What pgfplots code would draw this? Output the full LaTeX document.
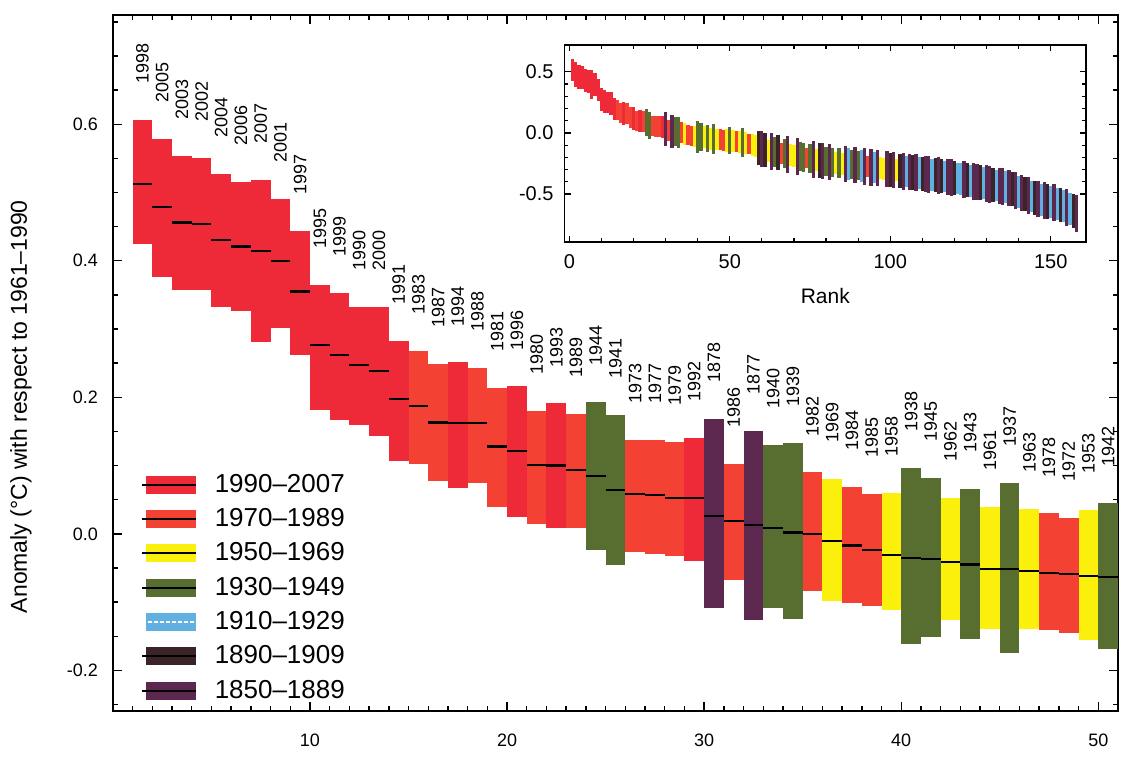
\documentclass[border=0pt]{standalone}
\usepackage{fontspec}
\setmainfont{Liberation Sans}
\usepackage{pgfplots}
\usepackage{pgfplotstable}
\pgfplotsset{compat=1.18}
\pgfplotsset{/pgf/number format/assume math mode=true}

\definecolor{c1}{RGB}{238,42,56}
\definecolor{c2}{RGB}{243,66,52}
\definecolor{c3}{RGB}{250,240,12}
\definecolor{c4}{RGB}{88,110,48}
\definecolor{c5}{RGB}{96,176,226}
\definecolor{c6}{RGB}{58,36,40}
\definecolor{c7}{RGB}{92,40,80}

\pgfplotsset{
  barleg/.style={legend image code/.code={
     \fill[##1, draw=none] (0pt,-4.5pt) rectangle (25pt,4.5pt);
     \draw[black,line width=1pt] (-2pt,0pt) -- (25pt,0pt);
     \path (33pt,0pt);}},
  barlegw/.style={legend image code/.code={
     \fill[##1, draw=none] (0pt,-4.5pt) rectangle (25pt,4.5pt);
     \draw[white,line width=1pt,dash pattern=on 2pt off 1pt] (-2pt,0pt) -- (25pt,0pt);
     \path (33pt,0pt);}},
  nomark/.style={draw=none, mark=none, forget plot},
}

% rank, year, upper bound, anomaly, lower bound, colour group
\pgfplotstableread{
rank year top mid bot grp
1 1998 0.606 0.513 0.424 1
2 2005 0.578 0.479 0.376 1
3 2003 0.553 0.456 0.357 1
4 2002 0.550 0.454 0.357 1
5 2004 0.527 0.431 0.333 1
6 2006 0.516 0.421 0.326 1
7 2007 0.519 0.414 0.281 1
8 2001 0.490 0.400 0.301 1
9 1997 0.444 0.355 0.262 1
10 1995 0.365 0.277 0.181 1
11 1999 0.353 0.262 0.167 1
12 1990 0.332 0.247 0.160 1
13 2000 0.332 0.238 0.143 1
14 1991 0.282 0.197 0.107 1
15 1983 0.268 0.187 0.103 2
16 1987 0.249 0.163 0.078 2
17 1994 0.251 0.162 0.067 1
18 1988 0.243 0.162 0.075 2
19 1981 0.214 0.128 0.040 2
20 1996 0.216 0.121 0.025 1
21 1980 0.180 0.101 0.015 2
22 1993 0.191 0.100 0.008 1
23 1989 0.176 0.093 0.009 2
24 1944 0.193 0.085 -0.023 4
25 1941 0.174 0.064 -0.046 4
26 1973 0.138 0.058 -0.026 2
27 1977 0.137 0.057 -0.029 2
28 1979 0.135 0.052 -0.033 2
29 1992 0.141 0.052 -0.040 1
30 1878 0.168 0.026 -0.109 7
31 1986 0.102 0.019 -0.068 2
32 1877 0.151 0.013 -0.126 7
33 1940 0.130 0.009 -0.108 4
34 1939 0.133 0.002 -0.125 4
35 1982 0.090 0.000 -0.084 2
36 1969 0.080 -0.010 -0.099 3
37 1984 0.069 -0.017 -0.102 2
38 1985 0.059 -0.024 -0.106 2
39 1958 0.060 -0.031 -0.111 3
40 1938 0.096 -0.035 -0.162 4
41 1945 0.082 -0.037 -0.151 4
42 1962 0.053 -0.041 -0.126 3
43 1943 0.066 -0.045 -0.154 4
44 1961 0.040 -0.051 -0.140 3
45 1937 0.074 -0.052 -0.174 4
46 1963 0.036 -0.054 -0.139 3
47 1978 0.030 -0.057 -0.141 2
48 1972 0.023 -0.059 -0.145 2
49 1953 0.035 -0.062 -0.155 3
50 1942 0.045 -0.063 -0.169 4
}\maindata

% inset, ranks 51-158: anomaly, half range, colour group
\pgfplotstableread{
rank mid err grp
51 -0.066 0.090 3
52 -0.070 0.085 2
53 -0.075 0.090 3
54 -0.080 0.120 4
55 -0.085 0.090 3
56 -0.090 0.085 2
57 -0.100 0.090 3
58 -0.110 0.090 3
59 -0.120 0.140 6
60 -0.130 0.150 7
61 -0.140 0.140 6
62 -0.145 0.090 3
63 -0.150 0.150 7
64 -0.155 0.120 4
65 -0.160 0.140 6
66 -0.165 0.085 2
67 -0.170 0.120 4
68 -0.175 0.150 7
69 -0.180 0.090 3
70 -0.185 0.090 3
71 -0.190 0.150 7
72 -0.195 0.120 4
73 -0.200 0.120 4
74 -0.205 0.085 2
75 -0.210 0.120 4
76 -0.215 0.150 7
77 -0.220 0.090 3
78 -0.225 0.140 6
79 -0.230 0.150 7
80 -0.235 0.120 4
81 -0.238 0.150 7
82 -0.240 0.120 4
83 -0.243 0.090 3
84 -0.246 0.120 4
85 -0.250 0.090 3
86 -0.253 0.150 7
87 -0.256 0.130 5
88 -0.260 0.120 4
89 -0.263 0.150 7
90 -0.266 0.120 4
91 -0.270 0.130 5
92 -0.273 0.150 7
93 -0.276 0.085 2
94 -0.280 0.150 7
95 -0.283 0.130 5
96 -0.286 0.150 7
97 -0.290 0.090 3
98 -0.293 0.090 3
99 -0.296 0.150 7
100 -0.300 0.140 6
101 -0.303 0.150 7
102 -0.306 0.090 3
103 -0.310 0.140 6
104 -0.313 0.150 7
105 -0.316 0.130 5
106 -0.320 0.150 7
107 -0.323 0.140 6
108 -0.326 0.150 7
109 -0.330 0.130 5
110 -0.333 0.140 6
111 -0.336 0.150 7
112 -0.340 0.150 7
113 -0.343 0.130 5
114 -0.346 0.140 6
115 -0.350 0.150 7
116 -0.353 0.140 6
117 -0.356 0.130 5
118 -0.360 0.150 7
119 -0.364 0.150 7
120 -0.368 0.140 6
121 -0.372 0.130 5
122 -0.376 0.130 5
123 -0.380 0.150 7
124 -0.385 0.140 6
125 -0.390 0.130 5
126 -0.395 0.150 7
127 -0.400 0.150 7
128 -0.405 0.140 6
129 -0.410 0.130 5
130 -0.415 0.150 7
131 -0.420 0.150 7
132 -0.425 0.140 6
133 -0.430 0.130 5
134 -0.435 0.150 7
135 -0.440 0.150 7
136 -0.445 0.130 5
137 -0.450 0.150 7
138 -0.460 0.140 6
139 -0.470 0.150 7
140 -0.480 0.130 5
141 -0.490 0.150 7
142 -0.500 0.140 6
143 -0.510 0.150 7
144 -0.520 0.130 5
145 -0.530 0.140 6
146 -0.540 0.150 7
147 -0.550 0.130 5
148 -0.555 0.150 7
149 -0.560 0.140 6
150 -0.565 0.130 5
151 -0.570 0.150 7
152 -0.580 0.130 5
153 -0.590 0.140 6
154 -0.600 0.130 5
155 -0.610 0.150 7
156 -0.620 0.130 5
157 -0.640 0.140 6
158 -0.660 0.150 7
}\insetdata

\begin{document}
\begin{tikzpicture}
\useasboundingbox (-56.5pt,-28.5pt) rectangle (508pt,356pt);
\begin{axis}[
  at={(0pt,0pt)}, anchor=south west,
  scale only axis, width=503pt, height=348.5pt,
  xmin=0, xmax=51, ymin=-0.26, ymax=0.76,
  clip=false,
  xtick={10,20,30,40,50},
  minor xtick={0,1,...,51},
  ytick={-0.2,0,0.2,0.4,0.6},
  minor ytick={-0.25,-0.15,-0.1,-0.05,0.05,0.1,0.15,0.25,0.3,0.35,0.45,0.5,0.55,0.65,0.7,0.75},
  yticklabel={\pgfmathprintnumber[fixed,fixed zerofill,precision=1]{\tick}},
  tick align=inside, tick pos=both,
  major tick length=4.5pt, minor tick length=2.5pt,
  every tick/.style={black, line width=0.7pt},
  axis line style={line width=0.9pt},
  tick label style={font=\fontsize{9}{10}\selectfont},
  xticklabel style={yshift=-8pt},
  yticklabel style={xshift=-4pt},
  ylabel={Anomaly (°C) with respect to 1961--1990},
  ylabel style={at={(axis description cs:-0.0915,0.4376)}, anchor=center, font=\fontsize{11.5}{13}\selectfont},
  legend style={at={(axis description cs:0.028,0.344)}, anchor=north west, draw=none, fill=none,
    inner sep=0pt, font=\fontsize{13}{14}\selectfont, row sep=4.6pt, nodes={inner sep=1pt}},
  legend cell align=left,
]
\addlegendimage{barleg, fill=c1}
\addlegendentry{1990--2007}
\addlegendimage{barleg, fill=c2}
\addlegendentry{1970--1989}
\addlegendimage{barleg, fill=c3}
\addlegendentry{1950--1969}
\addlegendimage{barleg, fill=c4}
\addlegendentry{1930--1949}
\addlegendimage{barlegw, fill=c5}
\addlegendentry{1910--1929}
\addlegendimage{barleg, fill=c6}
\addlegendentry{1890--1909}
\addlegendimage{barleg, fill=c7}
\addlegendentry{1850--1889}

\pgfplotsinvokeforeach{1,2,3,4,7}{
  \addplot[nomark,
    restrict expr to domain={\thisrow{grp}}{#1:#1},
    error bars/.cd, y dir=both, y explicit, error mark=none,
    error bar style={line width=9.86pt, color=c#1}]
  table[x expr=\thisrow{rank}+0.5, y=mid,
        y error plus expr=\thisrow{top}-\thisrow{mid},
        y error minus expr=\thisrow{mid}-\thisrow{bot}]{\maindata};
}
\addplot[nomark,
    error bars/.cd, x dir=both, x fixed=0.5, error mark=none,
    error bar style={line width=1.1pt, black}]
  table[x expr=\thisrow{rank}+0.5, y=mid]{\maindata};
\addplot[nomark, point meta=explicit symbolic,
    nodes near coords,
    every node near coord/.append style={rotate=90, anchor=west, inner xsep=18pt,
      inner ysep=0pt, font=\fontsize{9}{9}\selectfont, text=black}]
  table[x expr=\thisrow{rank}+0.5, y=top, meta=year]{\maindata};
\end{axis}

\begin{axis}[
  at={(226pt,235pt)}, anchor=south west,
  scale only axis, width=261pt, height=98.5pt,
  xmin=-1.5, xmax=161, ymin=-0.89, ymax=0.72,
  axis background/.style={fill=white},
  xtick={0,50,100,150}, ytick={-0.5,0,0.5},
  minor x tick num=4, minor y tick num=4,
  yticklabel={\pgfmathprintnumber[fixed,fixed zerofill,precision=1]{\tick}},
  tick align=inside, tick pos=both,
  major tick length=3pt, minor tick length=1.8pt,
  every tick/.style={black, line width=0.6pt},
  axis line style={line width=0.8pt},
  tick label style={font=\fontsize{10}{11}\selectfont},
  xticklabel style={yshift=-3pt},
  yticklabel style={xshift=-2pt},
  xlabel={Rank},
  xlabel style={at={(axis description cs:0.5,-0.274)}, anchor=center, font=\fontsize{10.5}{12}\selectfont},
]
\pgfplotsinvokeforeach{1,2,3,4,7}{
  \addplot[nomark,
    restrict expr to domain={\thisrow{grp}}{#1:#1},
    error bars/.cd, y dir=both, y explicit, error mark=none,
    error bar style={line width=1.61pt, color=c#1}]
  table[x=rank, y=mid,
        y error plus expr=\thisrow{top}-\thisrow{mid},
        y error minus expr=\thisrow{mid}-\thisrow{bot}]{\maindata};
}
\pgfplotsinvokeforeach{2,3,4,5,6,7}{
  \addplot[nomark,
    restrict expr to domain={\thisrow{grp}}{#1:#1},
    error bars/.cd, y dir=both, y explicit, error mark=none,
    error bar style={line width=1.61pt, color=c#1}]
  table[x=rank, y=mid, y error=err]{\insetdata};
}
\end{axis}
\end{tikzpicture}
\end{document}
